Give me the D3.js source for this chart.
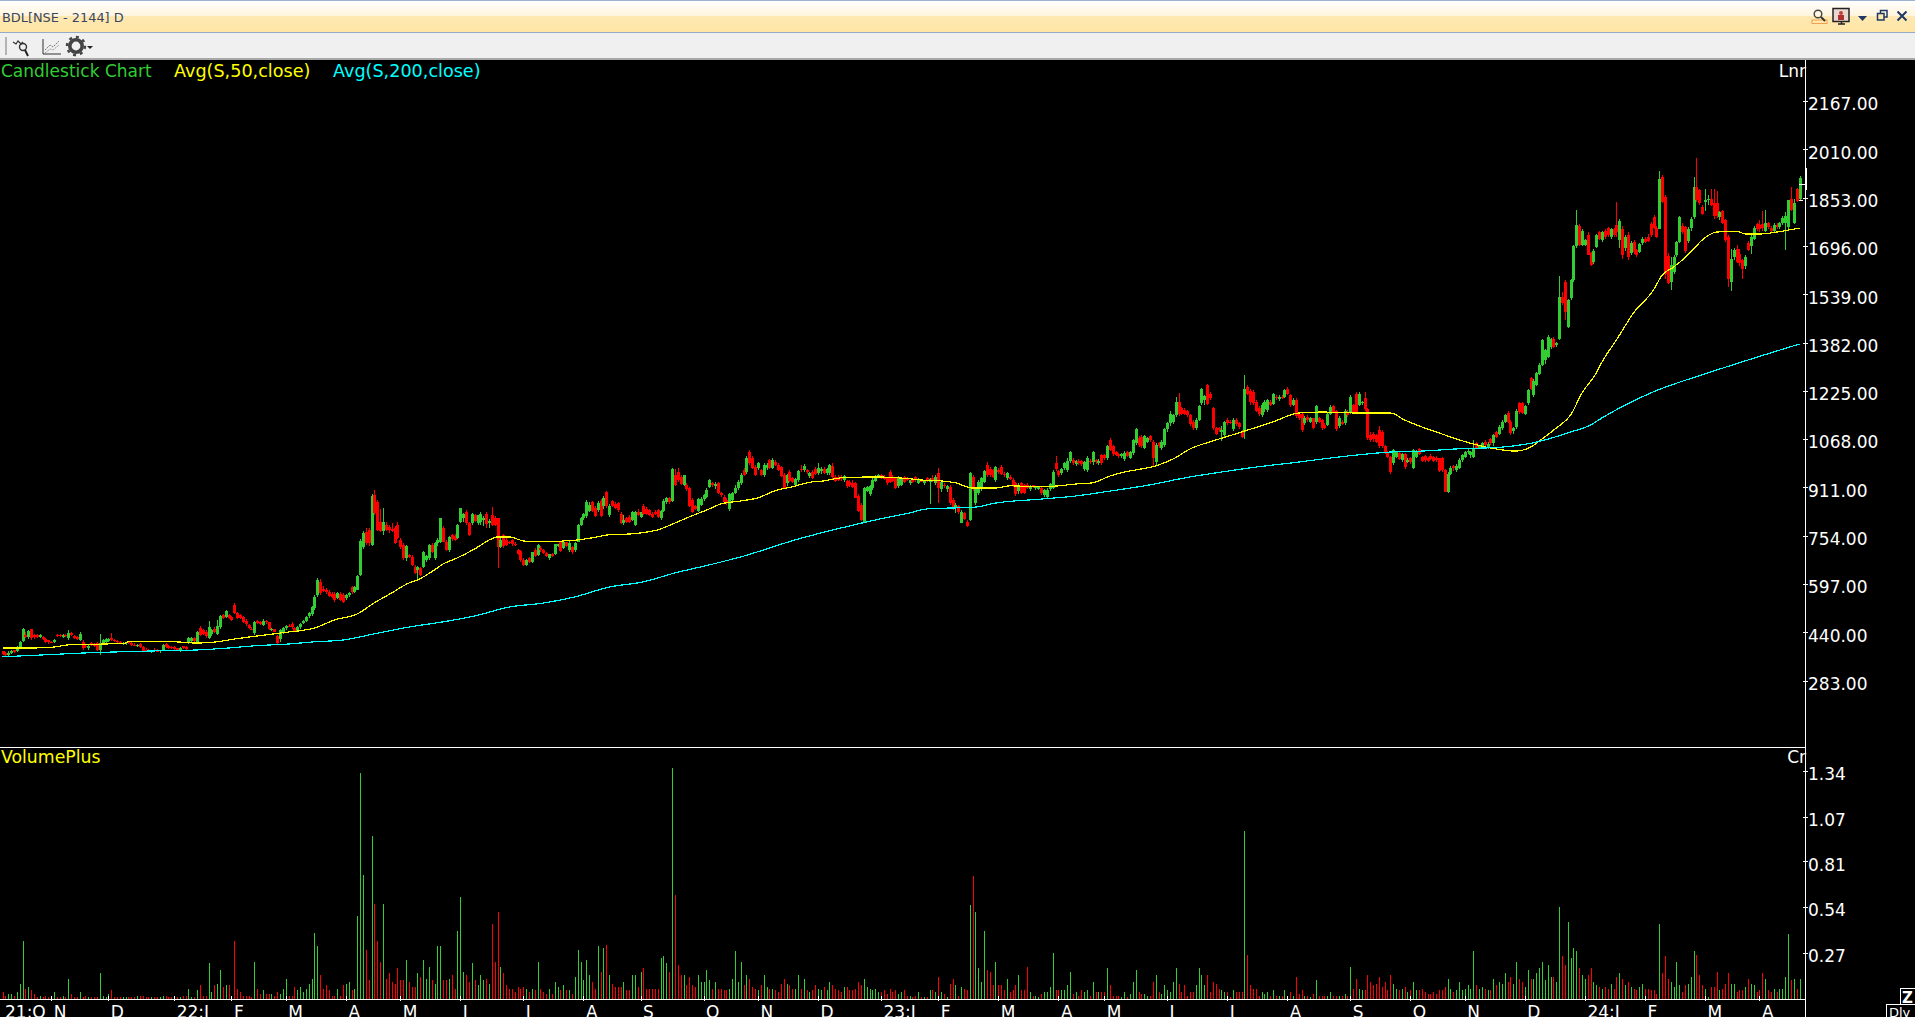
<!DOCTYPE html>
<html>
<head>
<meta charset="utf-8">
<title>BDL[NSE - 2144] D</title>
<script src="https://cdnjs.cloudflare.com/ajax/libs/d3/7.9.0/d3.min.js"></script>
<style>
html,body{margin:0;padding:0;background:#000;overflow:hidden;width:1915px;height:1017px}
svg{display:block}
text{font-family:"DejaVu Sans",sans-serif}
</style>
</head>
<body>
<svg id="chart" width="1915" height="1017"></svg>
<script>
// Daily bars, one array per calendar month.
// Row layout: [open, high, low, close, volume in 0.01 crore]
const oct21=[[378,380,366,368,4],[372,376,364,366,2],[366,378,364,374,3],[372,384,370,380,3],[382,384,374,376,2],[378,394,376,392,4],[392,412,388,410,9],[412,455,408,450,34],[432,440,420,426,6],[425,448,418,445,7],[450,452,415,420,5],[432,436,418,424,3],[430,434,420,424,1],[424,436,420,432,2],[425,428,414,418,1],[418,422,406,410,2],[414,416,402,408,1]];
const nov21=[[408,412,404,406,1],[408,418,404,416,4],[432,436,424,428,1],[430,434,424,427,1],[424,434,422,431,2],[432,436,426,428,1],[420,448,416,438,12],[438,442,428,432,3],[428,432,418,420,1],[424,428,414,418,1],[416,442,412,436,4],[410,414,384,388,1],[396,402,388,392,2],[388,402,384,397,1],[404,408,396,399,1],[402,406,392,395,1],[404,408,380,383,1],[382,436,366,404,15],[404,418,400,414,2],[410,422,406,417,1]];
const dec21=[[412,420,408,418,3],[420,438,412,415,5],[416,418,408,411,1],[412,415,406,408,1],[408,412,402,405,1],[402,408,398,405,1],[404,410,400,407,1],[408,412,402,404,1],[404,408,396,399,1],[400,404,394,397,1],[396,402,392,400,2],[402,406,390,392,2],[392,396,376,380,2],[384,388,378,381,1],[380,386,376,378,1],[378,382,372,380,1],[384,388,376,379,1],[380,386,376,378,1],[378,384,374,381,1],[383,402,380,400,2],[402,404,390,392,2],[394,398,386,389,1],[392,396,386,388,1]];
const jan22=[[392,396,384,386,1],[388,390,382,384,1],[380,392,376,390,1],[394,396,386,388,2],[392,396,384,386,2],[404,424,402,420,6],[412,426,408,420,1],[420,424,408,411,1],[410,444,408,441,5],[453,462,428,431,8],[448,452,432,436,2],[440,446,422,428,2],[422,478,418,458,21],[435,452,428,448,4],[452,456,438,442,8],[436,480,430,462,9],[458,496,452,494,17],[496,500,482,486,7],[490,514,486,510,8],[496,500,484,488,8]];
const feb22=[[490,494,476,480,2],[529,536,498,502,34],[502,506,484,488,6],[496,500,482,486,4],[490,494,470,475,2],[478,482,462,466,2],[464,468,450,454,2],[452,458,446,449,1],[437,478,432,475,22],[476,480,466,470,6],[472,476,464,468,3],[464,482,460,478,5],[478,480,468,472,3],[472,474,448,452,3],[448,454,444,452,3],[450,452,440,442,2],[428,430,402,406,4],[418,452,408,447,3],[440,458,436,453,6]];
const mar22=[[453,465,448,462,12],[462,466,456,458,2],[468,472,452,456,2],[453,458,440,443,7],[445,462,442,458,5],[458,470,452,467,7],[470,480,468,478,4],[476,494,472,491,6],[492,506,488,503,9],[498,526,494,523,12],[518,560,514,556,39],[561,615,556,610,31],[605,612,562,567,14],[582,590,570,574,6],[578,584,566,572,8],[572,578,554,557,5],[565,570,550,554,2],[566,572,540,544,2],[552,572,548,568,6],[566,570,542,546,2],[562,568,536,540,8]];
const apr22=[[551,566,545,562,9],[562,572,556,568,10],[586,592,565,570,5],[572,590,568,586,6],[578,625,576,622,49],[626,742,622,738,133],[718,770,710,762,73],[767,778,725,729,29],[772,778,722,729,11],[724,888,720,884,96],[885,903,820,827,56],[865,870,770,772,34],[800,842,765,768,22],[768,843,755,800,56],[790,800,768,772,12],[782,790,764,772,15],[775,795,765,770,10],[778,785,726,729,9],[789,800,742,745,18]];
const may22=[[740,748,712,716,11],[724,730,676,680,11],[680,724,672,720,23],[692,696,680,686,10],[686,690,656,660,7],[653,658,630,632,7],[643,654,610,651,15],[648,652,624,626,13],[653,704,650,702,23],[675,692,670,688,12],[681,726,676,724,19],[724,730,698,702,11],[681,732,676,729,9],[729,745,722,740,31],[735,812,730,810,31],[778,784,732,735,11],[735,740,705,708,11],[708,752,702,750,12],[755,760,738,742,14],[752,758,736,740,6],[745,792,742,789,40]];
const jun22=[[800,845,795,843,60],[810,828,800,825,16],[832,838,790,794,14],[794,798,752,756,10],[795,828,790,826,21],[822,826,798,802,11],[796,822,790,820,8],[800,830,790,826,14],[805,818,786,810,11],[825,830,780,792,12],[795,808,780,802,9],[822,848,785,790,44],[810,818,784,788,22],[810,812,648,718,51],[718,745,714,740,19],[755,758,715,720,15],[740,745,722,724,8],[735,738,726,730,6],[740,744,722,726,6],[728,732,720,724,4],[708,712,692,695,7],[705,708,670,675,6]];
const jul22=[[676,682,656,660,7],[660,678,654,675,6],[682,686,664,668,4],[670,702,664,700,6],[708,714,684,688,5],[692,728,688,724,22],[714,720,702,708,6],[708,712,696,699,4],[698,702,686,689,3],[680,696,676,694,6],[695,698,684,688,3],[696,728,692,726,10],[722,728,716,726,7],[732,738,700,704,5],[715,736,710,734,8],[732,735,716,719,5],[707,736,702,731,5],[718,722,696,700,3],[707,734,702,731,13],[735,792,732,789,29],[788,815,784,810,22]];
const aug22=[[810,828,805,826,11],[818,870,812,864,23],[835,862,830,855,14],[862,866,830,834,10],[845,852,815,818,6],[836,868,830,860,31],[868,874,815,818,16],[850,882,840,878,30],[896,900,845,850,32],[822,856,815,852,14],[866,870,848,852,9],[858,862,840,845,7],[860,865,832,836,7],[825,830,792,795,7],[795,820,790,806,10],[810,816,796,800,5],[815,820,795,800,5],[805,835,802,832,14],[790,835,785,832,14],[832,840,818,822,7]];
const sep22=[[815,832,810,830,16],[852,858,820,824,18],[840,846,820,824,6],[838,842,818,822,6],[825,832,812,816,6],[832,836,820,824,6],[836,842,810,815,6],[810,838,806,835,24],[835,872,830,868,25],[862,880,856,875,21],[875,880,858,862,16],[868,975,862,970,136],[950,970,915,920,61],[962,975,930,935,20],[945,950,918,922,14],[920,952,914,950,14],[920,925,900,905,8],[908,912,848,852,13],[870,875,828,832,8],[850,855,838,842,7],[835,878,830,872,14],[855,880,850,872,10]];
const oct22=[[872,888,868,885,10],[881,908,876,902,17],[913,938,908,935,11],[925,930,912,918,6],[915,930,905,922,10],[925,930,890,894,6],[892,896,880,885,6],[880,886,858,862,5],[870,875,855,860,5],[840,892,835,888,6],[870,895,862,892,12],[892,920,888,908,28],[908,935,902,928,10],[925,958,920,952,22],[968,975,948,951,8],[962,1012,955,1008,14],[1025,1032,985,989,12],[1005,1012,970,973,7],[978,984,948,951,6]];
const nov22=[[973,995,968,989,5],[968,972,948,951,8],[952,990,945,985,14],[973,990,968,984,7],[1000,1004,970,973,6],[973,1005,970,1001,6],[995,1000,982,985,5],[985,990,965,968,4],[978,982,945,948,9],[952,958,905,910,12],[925,955,915,950,9],[962,968,928,932,8],[942,946,925,928,6],[920,940,915,937,6],[935,968,930,965,14],[970,985,962,966,6],[968,988,960,982,12],[966,970,955,960,5],[948,962,942,958,4],[962,966,938,942,5],[972,978,950,955,8]];
const dec22=[[958,990,950,975,6],[965,978,955,970,5],[970,976,955,958,7],[958,975,952,970,5],[958,988,952,984,10],[980,990,936,945,8],[946,950,928,932,6],[945,950,932,936,5],[946,952,932,938,4],[935,952,928,948,7],[932,936,910,914,7],[930,936,912,918,5],[925,935,908,912,5],[925,930,875,878,6],[882,888,830,835,10],[855,860,802,806,8],[800,912,798,908,12],[900,916,895,912,7],[888,920,884,915,6],[908,942,904,936,5],[932,950,928,945,6],[945,955,940,950,4]];
const jan23=[[950,956,938,942,4],[945,950,936,938,5],[940,946,920,925,3],[962,966,925,930,6],[945,950,928,932,4],[940,944,905,910,5],[915,948,908,942,3],[920,946,915,942,4],[944,948,925,928,5],[942,946,932,936,2],[925,936,920,934,2],[938,940,926,930,1],[945,948,930,934,2],[925,940,922,936,4],[936,938,928,930,1],[925,936,920,934,1],[942,946,930,934,1],[930,942,858,938,5],[942,950,930,936,5],[925,950,920,946,4]];
const feb23=[[957,973,859,908,13],[905,935,895,930,4],[918,925,910,915,3],[905,920,895,915,1],[913,918,855,860,9],[870,875,838,842,12],[846,860,828,855,8],[850,854,826,830,2],[796,836,794,832,7],[827,830,805,808,6],[800,804,782,786,5],[805,960,802,957,55],[945,950,900,905,72],[860,912,855,908,51],[892,935,885,930,18],[905,945,900,940,10],[930,968,925,965,40],[985,992,945,950,17],[972,978,945,950,16],[968,972,940,945,8],[936,982,930,978,22]];
const mar23=[[968,975,955,960,8],[978,984,950,955,8],[955,962,945,950,5],[940,962,935,958,12],[945,950,935,938,4],[935,940,912,915,5],[925,930,884,888,8],[898,925,890,920,14],[925,930,890,894,5],[918,922,888,892,5],[918,925,905,910,19],[905,920,898,916,4],[918,920,908,912,2],[908,916,904,914,2],[906,914,902,912,1],[908,912,886,892,3],[885,905,880,902,4],[880,910,872,904,4],[905,925,900,922,7],[908,968,905,962,27],[990,1012,965,970,5]];
const apr23=[[965,968,945,952,5],[958,975,952,972,5],[973,992,968,989,5],[968,1005,962,998,8],[998,1030,990,1027,16],[1000,1008,985,990,3],[988,1000,982,996,4],[998,1002,985,990,2],[996,1000,982,986,5],[970,998,965,994,4],[968,1012,960,1005,5],[998,1004,988,992,2],[992,1030,985,1025,10],[1000,1004,988,992,4],[990,1002,985,998,4],[1015,1020,985,990,4]];
const may23=[[1016,1020,1000,1005,4],[1005,1048,1000,1044,18],[1065,1070,1028,1032,8],[1045,1050,1014,1018,2],[1025,1030,1012,1016,2],[1020,1024,1008,1012,2],[1012,1022,1006,1018,1],[1002,1028,998,1022,4],[1025,1028,1010,1014,1],[1006,1030,1002,1027,3],[1022,1068,1016,1064,10],[1054,1105,1048,1100,17],[1072,1078,1042,1048,4],[1075,1080,1040,1045,3],[1040,1082,1035,1078,3],[1060,1075,1055,1072,2],[1078,1082,1060,1066,2],[1060,1064,978,1006,10],[994,1054,985,1050,14],[1054,1058,1040,1044,4],[1038,1064,1032,1060,3],[1048,1105,1042,1100,8]];
const jun23=[[1100,1125,1092,1120,5],[1120,1160,1112,1150,4],[1125,1150,1118,1146,10],[1145,1205,1140,1190,18],[1190,1218,1142,1148,9],[1168,1172,1145,1150,4],[1163,1168,1145,1150,8],[1158,1162,1140,1146,2],[1146,1150,1112,1118,4],[1125,1130,1098,1103,4],[1103,1135,1098,1130,8],[1130,1180,1126,1176,18],[1184,1235,1178,1230,14],[1195,1212,1178,1208,8],[1244,1247,1178,1182,14],[1215,1220,1195,1200,4],[1168,1172,1098,1103,10],[1103,1108,1080,1086,9],[1103,1106,1090,1096,6],[1090,1112,1062,1096,5],[1082,1128,1076,1125,4]];
const jul23=[[1130,1136,1115,1120,4],[1125,1130,1118,1122,1],[1100,1135,1095,1130,5],[1130,1135,1112,1118,4],[1120,1124,1100,1106,4],[1092,1096,1070,1076,4],[1092,1277,1068,1232,99],[1238,1244,1210,1216,26],[1225,1230,1180,1190,8],[1222,1226,1178,1184,6],[1190,1195,1155,1160,6],[1170,1174,1142,1148,2],[1145,1185,1140,1180,4],[1165,1195,1155,1190,3],[1163,1198,1155,1195,4],[1190,1195,1175,1180,2],[1182,1218,1178,1215,5],[1206,1212,1196,1200,2],[1198,1212,1192,1206,2],[1206,1210,1198,1202,2],[1206,1232,1200,1228,5]];
const aug23=[[1232,1238,1210,1215,2],[1210,1214,1172,1178,4],[1180,1200,1176,1195,2],[1195,1200,1138,1142,13],[1150,1154,1130,1135,3],[1150,1154,1090,1098,5],[1120,1142,1115,1138,2],[1140,1145,1125,1130,2],[1125,1140,1120,1135,1],[1135,1138,1100,1104,3],[1125,1180,1118,1176,11],[1135,1140,1120,1124,2],[1130,1134,1098,1105,2],[1115,1120,1100,1104,2],[1115,1155,1110,1150,2],[1150,1180,1145,1172,4],[1175,1180,1152,1156,2],[1158,1162,1095,1100,2],[1110,1142,1105,1138,2],[1125,1130,1115,1118,2],[1120,1165,1115,1160,3],[1155,1162,1140,1145,2]];
const sep23=[[1152,1210,1148,1205,19],[1178,1182,1150,1155,6],[1215,1220,1150,1155,12],[1180,1222,1175,1215,6],[1185,1192,1178,1188,5],[1200,1222,1160,1165,5],[1165,1170,1065,1072,14],[1082,1090,1060,1065,10],[1085,1090,1060,1068,8],[1082,1086,1055,1060,9],[1098,1112,1040,1045,13],[1092,1098,1040,1045,7],[1045,1050,1018,1022,10],[1022,1030,1005,1010,5],[1010,1014,956,960,14],[990,1036,985,1032,9],[1010,1030,1005,1025,6],[1022,1028,1000,1004,5],[1000,1024,995,1020,6],[1020,1024,972,976,7],[995,1005,990,1000,4]];
const oct23=[[1005,1010,988,992,5],[973,1036,970,1033,10],[1010,1032,1005,1028,5],[1036,1040,1015,1020,5],[1010,1014,992,996,6],[1012,1016,995,1000,4],[1005,1010,995,998,3],[1012,1018,1000,1004,3],[1010,1014,994,998,4],[1008,1012,995,1000,3],[1005,1008,960,965,5],[1005,1010,962,968,5],[967,970,895,897,7],[897,960,892,955,12],[955,980,950,974,6],[980,985,965,975,4],[968,988,960,982,5],[975,1005,970,1000,10],[1000,1020,995,1015,5]];
const nov23=[[1010,1030,1005,1025,6],[1025,1035,1018,1030,8],[1015,1030,1008,1025,6],[1011,1065,1006,1036,28],[1055,1060,1035,1040,8],[1040,1050,1035,1046,6],[1045,1060,1040,1055,7],[1060,1066,1046,1050,6],[1040,1058,1035,1052,5],[1068,1072,1050,1056,5],[1055,1085,1045,1081,12],[1090,1095,1070,1075,8],[1085,1115,1080,1108,10],[1103,1130,1098,1125,9],[1125,1150,1120,1147,15],[1152,1158,1120,1125,10],[1125,1130,1082,1088,13],[1095,1108,1085,1104,9],[1107,1165,1100,1160,22],[1185,1190,1150,1155,12],[1185,1190,1148,1152,10]];
const dec23=[[1150,1180,1145,1175,7],[1185,1230,1180,1227,17],[1265,1270,1228,1232,12],[1211,1262,1205,1258,12],[1245,1285,1240,1282,15],[1280,1315,1275,1310,18],[1310,1395,1305,1390,22],[1325,1362,1312,1356,11],[1336,1408,1330,1401,20],[1368,1398,1360,1395,13],[1395,1400,1365,1368,13],[1375,1385,1368,1382,10],[1395,1598,1390,1530,54],[1530,1545,1505,1510,25],[1578,1585,1455,1480,20],[1433,1525,1428,1521,45],[1526,1590,1520,1585,24],[1585,1700,1580,1695,30],[1695,1812,1690,1764,28],[1760,1768,1695,1700,18],[1700,1750,1695,1746,14]];
const jan24=[[1700,1720,1695,1716,12],[1732,1740,1665,1668,14],[1672,1676,1630,1634,18],[1644,1685,1638,1680,10],[1693,1735,1688,1730,8],[1742,1745,1715,1720,7],[1715,1745,1708,1742,6],[1745,1750,1720,1725,7],[1753,1758,1725,1730,6],[1725,1755,1718,1750,9],[1750,1755,1725,1730,6],[1764,1838,1725,1742,13],[1715,1785,1690,1778,15],[1752,1760,1655,1665,12],[1690,1730,1680,1725,8],[1730,1740,1650,1660,10],[1672,1712,1665,1704,7],[1710,1715,1670,1675,6],[1682,1686,1660,1665,5],[1677,1706,1672,1702,7],[1706,1725,1700,1720,9]];
const feb24=[[1720,1724,1705,1710,6],[1725,1735,1708,1712,6],[1768,1775,1725,1730,5],[1790,1795,1750,1755,5],[1755,1760,1722,1726,3],[1752,1940,1750,1912,44],[1920,1925,1835,1840,15],[1855,1862,1590,1605,25],[1662,1672,1572,1575,12],[1578,1660,1552,1634,10],[1612,1665,1605,1660,7],[1666,1712,1660,1708,22],[1710,1792,1704,1790,8],[1760,1770,1735,1740,4],[1758,1762,1672,1680,8],[1712,1758,1705,1752,9],[1753,1790,1745,1785,13],[1791,1920,1785,1888,28],[1888,1983,1840,1845,26],[1878,1882,1830,1835,14],[1822,1828,1795,1800,8]];
const mar24=[[1840,1880,1810,1845,6],[1845,1860,1830,1848,1],[1848,1882,1825,1830,7],[1835,1880,1785,1792,7],[1836,1875,1788,1792,16],[1790,1808,1780,1806,5],[1808,1812,1766,1770,6],[1780,1785,1710,1715,9],[1725,1730,1563,1590,15],[1580,1685,1550,1655,9],[1660,1690,1650,1682,9],[1685,1700,1640,1645,4],[1670,1685,1632,1640,5],[1650,1655,1590,1620,5],[1630,1665,1620,1660,7],[1706,1712,1680,1684,12],[1695,1735,1670,1725,9],[1720,1760,1715,1755,8],[1768,1772,1745,1750,4]];
const apr24=[[1765,1780,1742,1750,5],[1768,1810,1745,1755,15],[1745,1812,1740,1770,12],[1770,1775,1750,1756,5],[1755,1760,1740,1745,4],[1745,1770,1738,1765,6],[1765,1772,1752,1756,4],[1756,1775,1750,1770,6],[1770,1792,1765,1788,6],[1770,1806,1682,1792,13],[1758,1845,1750,1845,38],[1850,1888,1810,1814,11],[1770,1850,1768,1835,12],[1880,1885,1838,1842,6],[1850,1922,1845,1918,12]];

const monthBars=[oct21,nov21,dec21,jan22,feb22,mar22,apr22,may22,jun22,jul22,aug22,sep22,oct22,nov22,dec22,jan23,feb23,mar23,apr23,may23,jun23,jul23,aug23,sep23,oct23,nov23,dec23,jan24,feb24,mar24,apr24];
const monthLabels=["21:O","N","D","22:J","F","M","A","M","J","J","A","S","O","N","D","23:J","F","M","A","M","J","J","A","S","O","N","D","24:J","F","M","A"];

// Moving averages, sampled at the listed bar numbers.
const sma50Bars=[0,11,18,23,36,43,44,60,68,75,81,89,95,100,104,109,116,124,130,136,142,145,151,154,159,165,171,173,177,182,186,194,196,201,206,212,220,223,229,235,240,247,251,258,264,270,276,283,287,293,305,317,321,328,333,339,347,352,363,369,375,381,387,392,398,403,409,415,423,432,444,453,461,473,481,485,490,502,514,520,529,534,538,543,548,552,557,559,564,570,577,580,584,590,594,599,606,609,615,620,628];
const sma50Values=[389,389,392,399,402,405,409,409,405,409,418,428,435,441,445,454,480,500,536,568,600,610,643,662,682,711,744,750,750,737,734,734,737,740,747,757,760,763,773,795,815,841,857,867,877,900,913,929,932,942,945,939,935,932,926,909,909,916,913,916,922,926,948,961,971,981,1003,1036,1062,1088,1124,1153,1156,1153,1153,1153,1130,1088,1052,1039,1029,1042,1068,1104,1146,1218,1283,1319,1390,1478,1553,1601,1627,1676,1715,1741,1744,1735,1735,1741,1754];
const sma200Bars=[0,6,13,22,29,39,51,69,79,88,100,109,119,130,142,154,165,177,189,200,212,224,235,247,258,278,293,305,317,323,340,347,363,375,387,399,415,426,438,450,461,473,485,496,508,524,536,548,555,559,576,597,628];
const sma200Values=[360,363,366,370,373,376,379,383,389,396,402,409,415,435,457,474,493,522,535,555,587,604,633,659,685,743,779,805,828,841,847,860,873,883,899,916,945,961,977,990,1003,1016,1026,1029,1036,1042,1058,1091,1114,1137,1218,1286,1377];

// Axis tick labels
const priceTicks=[2167,2010,1853,1696,1539,1382,1225,1068,911,754,597,440,283];
const volumeTicks=[1.34,1.07,0.81,0.54,0.27];

// Last-traded marker on the price axis: high, low, last, previous close
const lastQuote=[1949,1877,1894,1843];

// Flatten the months and note where each month starts
const bars=[];const monthStarts=[];
monthBars.forEach(m=>{monthStarts.push(bars.length);m.forEach(r=>bars.push(r));});
const GREEN="#32CD32",RED="#FF0000",YELLOW="#FFFF00",CYAN="#00FFFF";

const svg=d3.select("#chart");
const axisX=1805;
const x=d3.scaleLinear().domain([0,bars.length-1]).range([2.5,1799.5]);
const px=i=>Math.round(x(i));
const y=d3.scaleLinear().domain([2167,283]).range([101,680.6]);
const yVol=d3.scaleLinear().domain([0,1.34]).range([999,771]);

// Window chrome
const defs=svg.append("defs");
const grad=defs.append("linearGradient").attr("id","titleFill").attr("x1",0).attr("y1",0).attr("x2",0).attr("y2",1);
[[0,"#FFFFFF"],[0.47,"#FFF5DE"],[0.5,"#FFE9B2"],[1,"#FFE5A4"]].forEach(s=>grad.append("stop").attr("offset",s[0]).attr("stop-color",s[1]));
svg.append("rect").attr("width",1915).attr("height",1017).attr("fill","#000");
svg.append("rect").attr("x",0).attr("y",0).attr("width",1915).attr("height",33).attr("fill","url(#titleFill)");
svg.append("rect").attr("x",0).attr("y",0).attr("width",1915).attr("height",1).attr("fill","#9DB3D0");
svg.append("rect").attr("x",0).attr("y",32).attr("width",1915).attr("height",1).attr("fill","#93AAC9");
svg.append("rect").attr("x",0).attr("y",33).attr("width",1915).attr("height",25).attr("fill","#F0F0F0");
svg.append("rect").attr("x",0).attr("y",58).attr("width",1915).attr("height",2).attr("fill","#A8A8A8");
svg.append("text").attr("x",2).attr("y",22).attr("font-size",12.9).attr("fill","#3A4660").text("BDL[NSE - 2144] D");

// Toolbar icons
const tb=svg.append("g").attr("fill","none").attr("stroke","#333");
tb.append("line").attr("x1",6).attr("y1",37).attr("x2",6).attr("y2",55).attr("stroke","#A0A0A0").attr("stroke-width",1.5);
tb.append("path").attr("d","M13 42l3 2 2-3 3 3 2-2").attr("stroke-width",1.2);
tb.append("circle").attr("cx",23).attr("cy",47).attr("r",3.5).attr("stroke-width",1.4);
tb.append("line").attr("x1",25).attr("y1",50).attr("x2",28).attr("y2",56).attr("stroke","#222").attr("stroke-width",2);
tb.append("path").attr("d","M43 39V54H61").attr("stroke-width",1);
tb.append("path").attr("d","M45 50l5-5 3 2 6-6").attr("stroke","#777").attr("stroke-dasharray","2 1");
tb.append("path").attr("d","M45 53l5-4 3 1 6-5").attr("stroke","#999").attr("stroke-dasharray","2 1");
tb.append("circle").attr("cx",76).attr("cy",46).attr("r",6.2).attr("stroke","#444").attr("stroke-width",3.6);
tb.append("circle").attr("cx",76).attr("cy",46).attr("r",9).attr("stroke","#444").attr("stroke-width",2.4).attr("stroke-dasharray","3 4");
svg.append("path").attr("d","M87 46h6l-3 3z").attr("fill","#222");

// Title bar buttons
const tr=svg.append("g").attr("fill","none");
tr.append("rect").attr("x",1812).attr("y",20).attr("width",15).attr("height",3.5).attr("stroke","#F0A050").attr("stroke-width",1);
tr.append("circle").attr("cx",1818).attr("cy",14).attr("r",3.8).attr("stroke","#444").attr("stroke-width",1.4);
tr.append("line").attr("x1",1821).attr("y1",17).attr("x2",1825).attr("y2",21).attr("stroke","#333").attr("stroke-width",2);
tr.append("rect").attr("x",1833).attr("y",8.5).attr("width",16).attr("height",13).attr("fill","#E8D8D0").attr("stroke","#222").attr("stroke-width",1.5);
tr.append("circle").attr("cx",1841).attr("cy",13).attr("r",2).attr("fill","#C04040");
tr.append("rect").attr("x",1838).attr("y",15).attr("width",6).attr("height",5).attr("fill","#B03030");
tr.append("path").attr("d","M1838 24h7M1841.5 22v2").attr("stroke","#222").attr("stroke-width",1.5);
svg.append("path").attr("d","M1858 16h9l-4.5 5z").attr("fill","#1F3864");
tr.append("rect").attr("x",1880.5).attr("y",10.5).attr("width",6.5).attr("height",6.5).attr("stroke","#1F3864").attr("stroke-width",1.5);
tr.append("rect").attr("x",1877.5).attr("y",13.5).attr("width",6.5).attr("height",6.5).attr("fill","#FFE9B2").attr("stroke","#1F3864").attr("stroke-width",1.5);
tr.append("path").attr("d","M1897.5 11.5l9 9M1906.5 11.5l-9 9").attr("stroke","#1F3864").attr("stroke-width",2);

// Candles
const candleLayer=svg.append("g").attr("shape-rendering","crispEdges");
const candle=candleLayer.selectAll("g").data(bars).join("g");
const barColor=d=>d[3]>=d[0]?GREEN:RED;
candle.append("line").attr("x1",(d,i)=>px(i)+0.5).attr("x2",(d,i)=>px(i)+0.5)
  .attr("y1",d=>y(d[1])).attr("y2",d=>y(d[2])).attr("stroke",barColor);
candle.append("rect").attr("x",(d,i)=>px(i)-1).attr("width",3)
  .attr("y",d=>y(Math.max(d[0],d[3])))
  .attr("height",d=>Math.max(1,Math.abs(y(d[0])-y(d[3])))).attr("fill",barColor);

// Moving averages
const maLine=d3.line().curve(d3.curveMonotoneX).x(d=>x(d[0])).y(d=>y(d[1]));
svg.append("path").attr("d",maLine(d3.zip(sma50Bars,sma50Values))).attr("fill","none")
  .attr("stroke",YELLOW).attr("stroke-width",1.2).attr("shape-rendering","crispEdges");
svg.append("path").attr("d",maLine(d3.zip(sma200Bars,sma200Values))).attr("fill","none")
  .attr("stroke",CYAN).attr("stroke-width",1.2).attr("shape-rendering","crispEdges");

// Volume bars
svg.append("g").attr("shape-rendering","crispEdges").selectAll("rect").data(bars).join("rect")
  .attr("x",(d,i)=>px(i)).attr("width",1)
  .attr("y",d=>yVol(d[4]/100)).attr("height",d=>yVol(0)-yVol(d[4]/100)).attr("fill",barColor);

// Frame lines
const frame=svg.append("g").attr("stroke","#fff").attr("shape-rendering","crispEdges");
frame.append("line").attr("x1",axisX+0.5).attr("x2",axisX+0.5).attr("y1",60).attr("y2",1017);
frame.append("line").attr("x1",0).attr("x2",axisX).attr("y1",747.5).attr("y2",747.5);
frame.append("line").attr("x1",0).attr("x2",axisX).attr("y1",999.5).attr("y2",999.5);

// Axes
function styleValueAxis(g){
  g.select(".domain").remove();
  g.selectAll(".tick line").attr("stroke","#fff").attr("x1",-2).attr("x2",3).attr("shape-rendering","crispEdges");
  g.selectAll(".tick text").attr("fill","#fff").attr("font-size",17).attr("font-family","DejaVu Sans").attr("x",3).attr("dy","0.52em");
}
svg.append("g").attr("transform",`translate(${axisX},0)`)
  .call(d3.axisRight(y).tickValues(priceTicks).tickFormat(d3.format(".2f")))
  .call(styleValueAxis);
svg.append("g").attr("transform",`translate(${axisX},0)`)
  .call(d3.axisRight(yVol).tickValues(volumeTicks).tickFormat(d3.format(".2f")))
  .call(styleValueAxis);

const timeAxis=svg.append("g").attr("transform","translate(0,999)")
  .call(d3.axisBottom(x).tickValues(monthStarts).tickFormat((d,i)=>monthLabels[i]).tickSizeOuter(0));
timeAxis.select(".domain").remove();
timeAxis.selectAll(".tick line").attr("stroke","#fff").attr("y1",-3).attr("y2",2).attr("shape-rendering","crispEdges")
  .filter((d,i)=>i===0).remove();
timeAxis.selectAll(".tick text").attr("fill","#fff").attr("font-size",17).attr("font-family","DejaVu Sans")
  .attr("text-anchor","start").attr("x",2).attr("y",19).attr("dy",0);

// Last-traded marker
const lastX=axisX+1;
const lastMark=svg.append("g").attr("stroke","#fff").attr("shape-rendering","crispEdges");
lastMark.append("line").attr("x1",lastX+0.5).attr("x2",lastX+0.5).attr("y1",y(lastQuote[0])).attr("y2",y(lastQuote[1]));
lastMark.append("line").attr("x1",lastX-7).attr("x2",lastX).attr("y1",y(lastQuote[2])).attr("y2",y(lastQuote[2]));
lastMark.append("line").attr("x1",lastX-7).attr("x2",lastX-3).attr("y1",y(lastQuote[3])).attr("y2",y(lastQuote[3]));

// Legends and panel captions
const caption=(tx,ty,s,c,anchor,size)=>svg.append("text").attr("x",tx).attr("y",ty).attr("font-size",size||17)
  .attr("fill",c).attr("text-anchor",anchor||"start").text(s);
caption(1,77,"Candlestick Chart",GREEN);
caption(174,77,"Avg(S,50,close)",YELLOW,"start",17.6);
caption(333,77,"Avg(S,200,close)",CYAN,"start",17.6);
caption(1806,77,"Lnr","#fff","end");
caption(1,763,"VolumePlus",YELLOW,"start",17.3);
caption(1806,763,"Cr","#fff","end");

// Bottom-right period buttons
const btn=svg.append("g").attr("shape-rendering","crispEdges");
btn.append("rect").attr("x",1900.5).attr("y",988.5).attr("width",16).attr("height",16).attr("fill","#000").attr("stroke","#fff");
svg.append("text").attr("x",1902).attr("y",1003).attr("font-size",15).attr("font-weight","bold").attr("fill","#fff").text("Z");
btn.append("rect").attr("x",1886.5).attr("y",1004.5).attr("width",30).attr("height",14).attr("fill","#000").attr("stroke","#fff");
svg.append("text").attr("x",1889).attr("y",1017).attr("font-size",13).attr("fill","#fff").text("Dly");
</script>
</body>
</html>
